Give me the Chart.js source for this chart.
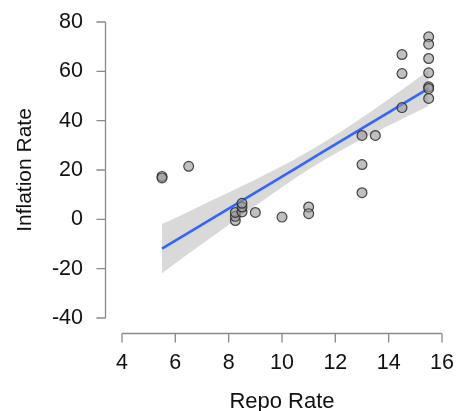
<!DOCTYPE html>
<html>
<head>
<meta charset="utf-8">
<script src="https://cdn.jsdelivr.net/npm/chart.js@4"></script>
<style>
  html,body{margin:0;padding:0;background:#fff}
  #wrap{width:456px;height:411px}
</style>
</head>
<body>
<div id="wrap"><canvas id="c" width="456" height="411"></canvas></div>
<script>
// ── data ──
const repoRate=[5.5,5.5,6.5,8.25,8.25,8.25,8.5,8.5,8.5,9,10,11,11,13,13,13,13.5,14.5,14.5,14.5,15.5,15.5,15.5,15.5,15.5,15.5,15.5];
const inflation=[17.4,16.8,21.5,-0.5,1.2,2.8,3,5,6.5,2.8,0.9,5,2.3,34,22.2,10.8,34,66.8,59.1,45.3,74,71,65.2,59.4,53.7,53,49];
// fitted line + confidence band
const fitX=[5.5,6.5,7.5,8.5,9.5,10.5,11.5,12.5,13.5,14.5,15.5];
const fitY=[-11.9,-5.4,1.1,7.6,14.1,20.6,27.1,33.6,40.1,46.6,53.1];
const bandUpper=[-1.9,3.1,8.3,13.5,18.9,24.5,30.7,37.6,44.9,52.5,60.3];
const bandLower=[-21.9,-13.9,-6.1,1.7,9.3,16.7,23.5,29.6,35.3,40.7,45.9];
const xTicks=[4,6,8,10,12,14,16];
const yTicks=[-40,-20,0,20,40,60,80];

const FONT='"Liberation Sans", Arial, sans-serif';
const AXIS_GREY='#8a8a8a';

const pts=(xs,ys)=>xs.map((x,i)=>({x,y:ys[i]}));
const noPad=s=>{s.paddingLeft=0;s.paddingRight=0;s.paddingTop=0;s.paddingBottom=0};

// draws the detached (offset) axis lines with tick marks
const detachedAxes={
  id:'detachedAxes',
  afterDraw(chart){
    const {ctx,scales:{x,y}}=chart;
    ctx.save();
    ctx.strokeStyle=AXIS_GREY;ctx.lineWidth=1.3;
    // y axis
    const yx=105.5;
    ctx.beginPath();
    ctx.moveTo(yx,y.getPixelForValue(yTicks[yTicks.length-1]));
    ctx.lineTo(yx,y.getPixelForValue(yTicks[0]));
    yTicks.forEach(v=>{const py=y.getPixelForValue(v);ctx.moveTo(yx,py);ctx.lineTo(yx-9,py)});
    ctx.stroke();
    // x axis
    const xy=333.5;
    ctx.beginPath();
    ctx.moveTo(x.getPixelForValue(xTicks[0]),xy);
    ctx.lineTo(x.getPixelForValue(xTicks[xTicks.length-1]),xy);
    xTicks.forEach(v=>{const px=x.getPixelForValue(v);ctx.moveTo(px,xy);ctx.lineTo(px,xy+9)});
    ctx.stroke();
    ctx.restore();
  }
};

new Chart(document.getElementById('c'),{
  type:'scatter',
  data:{datasets:[
    {type:'scatter',label:'obs',data:pts(repoRate,inflation),
      pointRadius:4.9,pointBackgroundColor:'rgba(150,150,150,0.6)',
      pointBorderColor:'rgba(40,40,40,0.85)',pointBorderWidth:1.2,order:0},
    {type:'line',label:'fit',data:pts(fitX,fitY),borderColor:'#3366ff',borderWidth:2.6,
      pointRadius:0,tension:0,fill:false,order:1},
    {type:'line',label:'upper',data:pts(fitX,bandUpper),borderWidth:0,pointRadius:0,
      tension:0.3,fill:'+1',backgroundColor:'#d9d9d9',order:2},
    {type:'line',label:'lower',data:pts(fitX,bandLower),borderWidth:0,pointRadius:0,
      tension:0.3,fill:false,order:2}
  ]},
  options:{
    responsive:false,animation:false,
    layout:{padding:{top:22,right:14,left:0,bottom:0}},
    plugins:{legend:{display:false},tooltip:{enabled:false}},
    scales:{
      x:{type:'linear',min:4,max:16,
        afterBuildTicks:s=>{s.ticks=xTicks.map(v=>({value:v}))},
        afterFit:s=>{s.height=93;noPad(s)},
        grid:{display:false,drawTicks:false},border:{display:false},
        ticks:{padding:32,color:'#111',font:{family:FONT,size:21.5}},
        title:{display:true,text:'Repo Rate',color:'#111',font:{family:FONT,size:22,lineHeight:0.8},padding:{top:0,bottom:0}}},
      y:{type:'linear',min:-40,max:80,
        afterBuildTicks:s=>{s.ticks=yTicks.map(v=>({value:v}))},
        afterFit:s=>{s.width=122;noPad(s)},
        grid:{display:false,drawTicks:false},border:{display:false},
        ticks:{padding:39,color:'#111',font:{family:FONT,size:21.5}},
        title:{display:true,text:'Inflation Rate',color:'#111',font:{family:FONT,size:21,lineHeight:1},padding:{top:15,bottom:0}}}
    }
  },
  plugins:[detachedAxes]
});
</script>
</body>
</html>
